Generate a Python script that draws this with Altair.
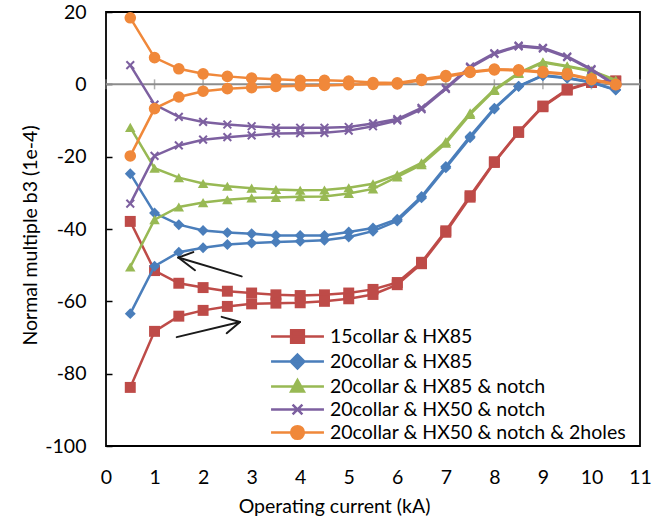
import altair as alt
import pandas as pd

# ---------------- data ----------------
current = [0.5, 1, 1.5, 2, 2.5, 3, 3.5, 4, 4.5, 5, 5.5, 6, 6.5, 7, 7.5, 8, 8.5, 9, 9.5, 10, 10.5]

series_names = [
    "15collar & HX85",
    "20collar & HX85",
    "20collar & HX85 & notch",
    "20collar & HX50 & notch",
    "20collar & HX50 & notch & 2holes",
]

# upper branch (ramp down) and lower branch (ramp up) for each configuration
red_down = [-37.9, -51.5, -55.0, -56.2, -57.2, -57.7, -58.2, -58.4, -58.2, -57.7, -56.7,
            -54.8, -49.2, -40.5, -30.8, -21.4, -13.1, -6.0, -1.4, 0.6, 0.9]
red_up = [-83.8, -68.3, -64.1, -62.5, -61.4, -60.7, -60.5, -60.4, -60.0, -59.3, -58.1,
          -55.4, -49.6, -40.9, -31.2, -21.6, -13.3, -6.2, -1.6, 0.5, 0.9]

blue_down = [-24.7, -35.6, -38.8, -40.4, -41.0, -41.3, -41.8, -41.8, -41.8, -40.8, -39.7,
             -37.3, -31.0, -22.7, -14.4, -6.6, -0.5, 2.5, 1.8, 0.6, -1.5]
blue_up = [-63.4, -50.3, -46.4, -45.2, -44.3, -43.9, -43.6, -43.4, -43.1, -42.2, -40.6,
           -37.8, -31.4, -23.1, -14.8, -6.8, -0.6, 2.4, 1.7, 0.5, -1.6]

green_down = [-11.9, -23.2, -25.8, -27.4, -28.2, -28.7, -29.1, -29.3, -29.2, -28.6, -27.5,
              -25.0, -21.7, -15.8, -7.9, -1.4, 3.2, 6.2, 5.1, 3.8, 1.2]
green_up = [-50.5, -37.4, -33.9, -32.7, -31.9, -31.4, -31.3, -31.1, -31.0, -30.2, -28.9,
            -25.6, -22.2, -16.3, -8.3, -1.7, 3.0, 6.0, 4.9, 3.6, 1.0]

purple_down = [5.3, -5.6, -9.0, -10.4, -11.1, -11.6, -12.0, -12.0, -12.0, -11.8, -10.8,
               -9.6, -6.5, -1.0, 4.9, 8.6, 10.7, 10.1, 7.7, 4.2, -0.2]
purple_up = [-33.0, -19.8, -16.9, -15.3, -14.6, -14.1, -13.6, -13.5, -13.4, -12.8, -11.6,
             -10.0, -6.9, -1.3, 4.6, 8.4, 10.5, 9.9, 7.5, 4.0, -0.4]

orange_down = [18.4, 7.4, 4.3, 2.9, 2.2, 1.7, 1.4, 1.1, 1.1, 0.9, 0.5,
               0.4, 1.4, 2.4, 3.5, 4.2, 4.0, 3.5, 2.9, 1.5, 0.0]
orange_up = [-19.8, -6.7, -3.5, -1.9, -1.2, -0.9, -0.6, -0.4, -0.3, -0.1, 0.0,
             0.1, 1.1, 2.1, 3.3, 4.0, 3.8, 3.3, 2.7, 1.3, -0.1]

branches_down = [red_down, blue_down, green_down, purple_down, orange_down]
branches_up = [red_up, blue_up, green_up, purple_up, orange_up]

x_ticks = list(range(0, 12))
y_ticks = [-100, -80, -60, -40, -20, 0, 20]

# annotation arrows (data units): shaft start -> tip, plus two head barbs
arrow_x = [2.795, 1.456]
arrow_y = [-53.1, -69.9]
arrow_tip_x = [1.489, 2.760]
arrow_tip_y = [-47.9, -65.7]
barb1_x = [1.798, 2.383]
barb1_y = [-46.4, -64.3]
barb2_x = [1.833, 2.486]
barb2_y = [-51.4, -68.8]

# ---------------- styling ----------------
colors = ["#BE4B48", "#4A7EBB", "#98B954", "#7D60A0", "#F0883A"]
cross_path = "M-1,-1L1,1M-1,1L1,-1"
plot_shapes = ["square", "diamond", "triangle-up", cross_path, "circle"]
plot_sizes = [120, 120, 110, 60, 135]
legend_paths = [
    "M-2.7,0H2.7M-0.65,-0.65H0.65V0.65H-0.65Z",
    "M-2.7,0H2.7M0,-0.7L0.7,0L0,0.7L-0.7,0Z",
    "M-2.7,0H2.7M0,-0.65L0.65,0.5H-0.65Z",
    "M-2.7,0H2.7M-0.5,-0.5L0.5,0.5M-0.5,0.5L0.5,-0.5",
    "M-2.7,0H2.7M0.65,0C0.65,0.36,0.36,0.65,0,0.65C-0.36,0.65,-0.65,0.36,-0.65,0"
    "C-0.65,-0.36,-0.36,-0.65,0,-0.65C0.36,-0.65,0.65,-0.36,0.65,0Z",
]
FONT = "Lato"
FS = 19.5

rows = []
for name, dn, up in zip(series_names, branches_down, branches_up):
    for branch, vals in (("down", dn), ("up", up)):
        for x, y in zip(current, vals):
            rows.append({"series": name, "branch": branch, "current": x, "b3": y})
df = pd.DataFrame(rows)

x_enc = alt.X(
    "current:Q",
    scale=alt.Scale(domain=[0, 11], nice=False, zero=False),
    axis=alt.Axis(
        values=x_ticks, title="Operating current (kA)", grid=False, domain=False,
        ticks=False, labelFont=FONT, labelFontSize=FS, labelColor="#000",
        labelPadding=22, titleFont=FONT, titleFontSize=FS, titleFontWeight="normal",
        titleColor="#000", titleX=228, titleY=60, titleBaseline="middle",
        labelFlush=False, labelExpr="'' + datum.value",
    ),
)
y_enc = alt.Y(
    "b3:Q",
    scale=alt.Scale(domain=[-100, 20], nice=False, zero=False),
    axis=alt.Axis(
        values=y_ticks, title="Normal multiple b3 (1e-4)", grid=False, domain=False,
        ticks=True, tickSize=6, tickColor="#000", tickWidth=1.5, offset=-6,
        labelFont=FONT, labelFontSize=FS, labelColor="#000",
        labelPadding=20, titleFont=FONT, titleFontSize=FS, titleFontWeight="normal",
        titleColor="#000", titleX=-82, titleY=223, titleBaseline="middle",
        titleAngle=270, labelFlush=False, labelExpr="'' + datum.value",
    ),
)

base = alt.Chart(df)

# zero line with gray ticks
zero_df = pd.DataFrame({"b3": [0]})
zero_line = alt.Chart(zero_df).mark_rule(color="#8C8C8C", strokeWidth=2).encode(y="b3:Q")
tick_df = pd.DataFrame({"current": x_ticks, "b3": [0] * len(x_ticks)})
zero_ticks = alt.Chart(tick_df).mark_tick(
    color="#8C8C8C", orient="vertical", size=10, thickness=1.5
).encode(x="current:Q", y="b3:Q")

layers = [zero_line, zero_ticks]
for name, color, shp, sz in zip(series_names, colors, plot_shapes, plot_sizes):
    sub = base.transform_filter(alt.datum.series == name)
    line = sub.mark_line(color=color, strokeWidth=2.5).encode(
        x=x_enc, y=y_enc, detail="branch:N", order="current:Q"
    )
    if shp == cross_path:
        pts = sub.mark_point(shape=shp, filled=False, color=color, size=sz,
                             strokeWidth=2, opacity=1).encode(x=x_enc, y=y_enc)
    else:
        pts = sub.mark_point(shape=shp, filled=True, color=color, size=sz,
                             opacity=1).encode(x=x_enc, y=y_enc)
    layers += [line, pts]

# arrows
arrow_df = pd.DataFrame({
    "x": arrow_x + arrow_tip_x + arrow_tip_x,
    "y": arrow_y + arrow_tip_y + arrow_tip_y,
    "x2": arrow_tip_x + barb1_x + barb2_x,
    "y2": arrow_tip_y + barb1_y + barb2_y,
})
arrows = alt.Chart(arrow_df).mark_rule(color="#1A1A1A", strokeWidth=2, strokeCap="round").encode(
    x="x:Q", y="y:Q", x2="x2:Q", y2="y2:Q"
)
layers.append(arrows)

# legend provider (invisible points, legend symbols carry line + marker)
leg = alt.Legend(
    title=None, orient="none", legendX=180, legendY=313, padding=0,
    symbolSize=384, symbolStrokeWidth=2.5, symbolOpacity=1,
    labelFont=FONT, labelFontSize=FS, labelColor="#000", labelOffset=21,
    rowPadding=1, labelLimit=400,
)
legend_layer = base.mark_point(opacity=0, filled=True).encode(
    x=x_enc, y=y_enc,
    fill=alt.Fill("series:N", scale=alt.Scale(domain=series_names, range=colors), legend=leg, sort=series_names),
    stroke=alt.Stroke("series:N", scale=alt.Scale(domain=series_names, range=colors), legend=leg, sort=series_names),
    shape=alt.Shape("series:N", scale=alt.Scale(domain=series_names, range=legend_paths), legend=leg, sort=series_names),
)
layers.append(legend_layer)

chart = alt.layer(*layers).properties(
    width=534, height=434,
    autosize=alt.AutoSizeParams(type="none"),
    padding={"left": 106, "top": 12, "right": 20, "bottom": 77},
    background="white",
).configure_view(stroke="#000", strokeWidth=1.8)

chart.save("out.html", embed_options={"renderer": "svg", "actions": False})
